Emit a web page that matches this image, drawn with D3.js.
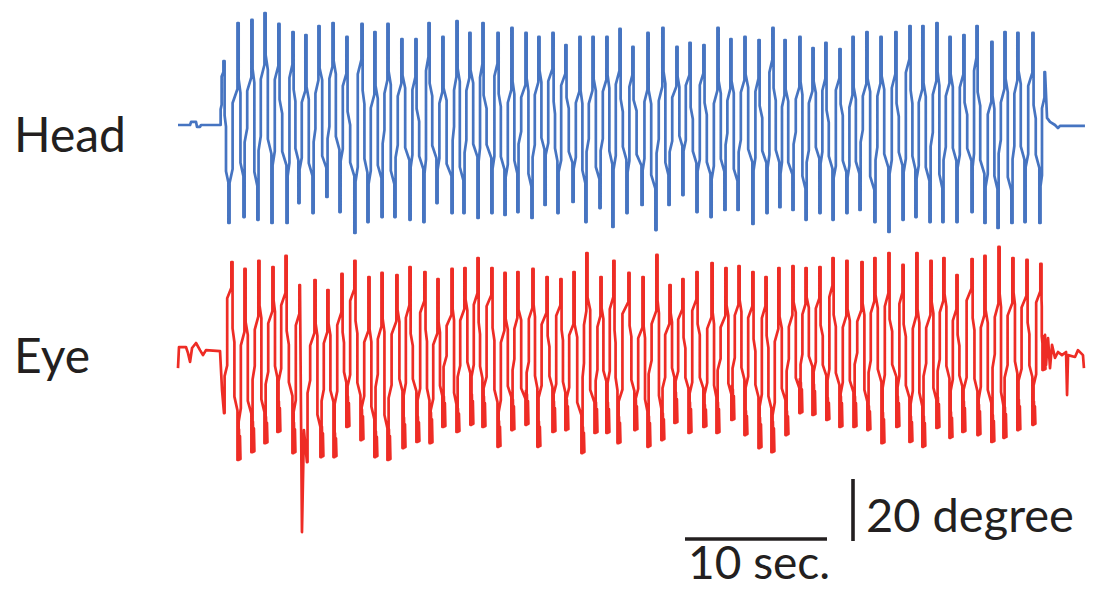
<!DOCTYPE html>
<html>
<head>
<meta charset="utf-8">
<script src="https://cdn.jsdelivr.net/npm/d3@7"></script>
<style>
  html, body { margin: 0; padding: 0; background: #fff; }
  svg { display: block; }
  text { font-family: Lato, "Open Sans", sans-serif; fill: #231f20; }
</style>
</head>
<body>
<svg id="chart"></svg>
<script>
var width = 1098, height = 589;

// head trace: turning points (time in s, angle in degree)
var headTime = [0, 0.85, 0.92, 1.27, 1.34, 1.55, 1.62, 2.96,
    3.24, 3.59, 4.23, 4.65, 5.21, 5.63, 6.13, 6.62, 7.11, 7.68, 8.10, 8.52, 9.01, 9.51, 9.93, 10.49,
    10.92, 11.41, 11.90, 12.46, 12.96, 13.38, 13.87, 14.37, 14.79, 15.28, 15.77, 16.34, 16.76, 17.32,
    17.68, 18.24, 18.66, 19.30, 19.65, 20.14, 20.56, 21.13, 21.48, 22.11, 22.54, 23.03, 23.52, 23.94,
    24.51, 24.93, 25.42, 25.85, 26.41, 26.76, 27.32, 27.82, 28.31, 28.73, 29.23, 29.72, 30.21, 30.63,
    31.13, 31.62, 32.04, 32.68, 33.10, 33.66, 34.15, 34.58, 35.14, 35.56, 36.06, 36.55, 37.04, 37.54,
    38.03, 38.52, 38.94, 39.44, 39.93, 40.49, 40.92, 41.48, 41.90, 42.39, 42.75, 43.31, 43.80, 44.23,
    44.72, 45.21, 45.63, 46.13, 46.62, 47.11, 47.54, 48.03, 48.52, 49.08, 49.51, 50.07, 50.56, 51.06,
    51.55, 51.97, 52.46, 52.96, 53.45, 53.87, 54.37, 54.86, 55.35, 55.92, 56.27, 56.83, 57.32, 57.75,
    58.24, 58.73, 59.15, 59.65, 60.21, 60.70, 61.06,
    61.20, 61.41, 61.76, 61.97, 62.11, 63.87];
var headDeg = [0, 0, 1.0, 1.0, -0.6, -0.6, 0, 0,
    20.6, -31.6, 32.9, -29.7, 33.9, -30.6, 36.1, -31.6, 32.6, -31.6, 30.0, -25.2, 29.0, -28.4, 31.9, -23.2,
    32.9, -28.1, 28.4, -34.8, 32.6, -31.3, 30.0, -29.7, 32.6, -29.7, 27.7, -30.6, 27.7, -31.3,
    32.9, -25.2, 28.4, -28.4, 33.5, -28.4, 29.7, -30.0, 32.9, -28.4, 29.7, -29.0, 31.3, -28.1,
    29.7, -30.0, 28.4, -25.8, 29.7, -28.4, 25.8, -24.8, 28.4, -31.3, 28.4, -26.8, 28.4, -32.9,
    31.0, -28.4, 25.2, -25.8, 29.7, -33.9, 31.3, -25.8, 25.2, -22.6, 26.5, -28.1, 25.8, -29.7,
    31.3, -27.4, 27.7, -27.4, 28.4, -31.9, 27.4, -28.4, 31.3, -26.5, 27.4, -27.4, 28.4, -30.6,
    24.8, -28.4, 26.5, -30.6, 24.5, -28.4, 28.4, -27.4, 30.0, -31.3, 28.4, -34.5, 30.0, -30.6,
    31.9, -29.7, 31.9, -31.3, 32.9, -31.3, 28.4, -31.3, 29.0, -28.1, 31.9, -31.6, 26.8, -33.2,
    30.0, -31.6, 29.7, -31.3, 29.7, -31.6, 17.1,
    2.3, 1.0, 0, -1.0, -0.3, -0.3];

// eye trace: turning points (time in s, angle in degree)
var eyeTime = [0, 0.07, 0.56, 0.70, 0.85, 0.99, 1.27, 1.55, 1.76, 1.97, 2.96, 3.10,
    3.24, 3.80, 4.23, 4.72, 5.21, 5.70, 6.13, 6.69, 7.04, 7.61, 8.10, 8.59, 8.73, 8.87, 9.08,
    9.65, 10.07, 10.56, 10.99, 11.55, 11.90, 12.46, 12.89, 13.45, 13.87, 14.37, 14.79, 15.42, 15.85,
    16.34, 16.83, 17.39, 17.75, 18.31, 18.66, 19.30, 19.65, 20.21, 20.63, 21.13, 21.48, 22.11, 22.54,
    23.03, 23.52, 23.94, 24.51, 25.00, 25.35, 25.99, 26.41, 26.97, 27.32, 27.89, 28.45, 28.80, 29.37,
    29.79, 30.21, 30.70, 30.99, 31.76, 32.18, 32.75, 33.10, 33.73, 34.08, 34.65, 35.00, 35.56, 35.99,
    36.55, 37.04, 37.61, 37.96, 38.59, 39.01, 39.51, 39.93, 40.49, 40.92, 41.41, 41.83, 42.32, 42.82,
    43.31, 43.80, 44.23, 44.72, 45.21, 45.70, 46.13, 46.62, 47.11, 47.61, 48.17, 48.59, 49.08, 49.58,
    50.07, 50.63, 51.06, 51.55, 52.04, 52.46, 53.03, 53.45, 53.94, 54.37, 54.86, 55.28, 55.92, 56.34,
    56.83, 57.32, 57.82, 58.17, 58.80, 59.15, 59.79, 60.21, 60.77,
    60.92, 61.06, 61.13, 61.27, 61.41, 61.55, 61.76, 61.97, 62.25, 62.54, 62.61, 62.68, 63.17, 63.38, 63.73, 63.80];
var eyeDeg = [-5.2, 1.6, 1.6, -0.3, -3.2, 1.3, 2.9, 0.6, -1.0, 0.6, 0.3, -12.2,
    -19.7, 29.0, -34.8, 26.8, -32.3, 29.4, -29.4, 27.4, -25.8, 31.0, -32.6, 21.6, -58.1, -25.2, -35.5,
    23.2, -33.9, 20.0, -33.9, 25.2, -24.2, 29.4, -28.4, 24.2, -33.9, 25.5, -34.8, 24.8, -31.0,
    27.4, -29.0, 25.8, -29.4, 23.5, -24.2, 26.8, -25.8, 27.1, -23.5, 30.3, -24.2, 27.1, -30.6,
    25.5, -25.2, 25.8, -23.5, 26.8, -30.6, 24.2, -25.8, 23.5, -25.2, 25.8, -32.6, 31.9, -26.1,
    24.2, -26.1, 29.4, -29.4, 25.5, -25.2, 24.2, -30.6, 31.3, -28.4, 21.6, -22.9, 23.5, -26.1,
    25.8, -24.2, 28.7, -26.1, 27.1, -21.9, 27.7, -26.8, 25.8, -31.0, 24.2, -32.3, 27.1, -26.8,
    27.7, -19.7, 27.1, -20.3, 27.4, -21.9, 30.3, -24.2, 29.4, -24.2, 29.0, -25.2, 30.3, -29.4,
    31.9, -24.2, 28.1, -29.0, 31.9, -30.6, 29.4, -24.5, 30.3, -27.7, 24.8, -25.8, 30.0, -26.8,
    31.0, -29.0, 33.9, -27.7, 30.3, -25.2, 29.7, -23.5, 28.4,
    -5.8, 5.5, -4.2, 4.5, -5.2, 2.3, -1.9, 0, -1.0, 0, -13.9, -1.0, -1.6, 0.6, -1.0, -5.2];

var traceLabels = ["Head", "Eye"];
var scaleSec = 10, scaleDeg = 20;
var scaleLabels = ["10 sec.", "20 degree"];

var svg = d3.select("#chart")
    .attr("width", width)
    .attr("height", height);

var xRange = d3.scaleLinear().domain([0, 10]).range([178, 320]);
var yHead = d3.scaleLinear().domain([-20, 20]).range([187, 63]);
var yEye = d3.scaleLinear().domain([-20, 20]).range([414, 290]);

// curve: fast slips drawn as near-vertical strokes with two small kinks
function Kink(context, chunky) {
    this._context = context;
    this._chunky = chunky;
}
Kink.prototype = {
    areaStart: function() {},
    areaEnd: function() {},
    lineStart: function() { this._i = 0; },
    lineEnd: function() {},
    point: function(x, y) {
        var c = this._context;
        if (this._i === 0) {
            c.moveTo(x, y);
        } else {
            var x0 = this._x, y0 = this._y, dx = x - x0, dy = y - y0;
            if (Math.abs(dy) < 40 || dx < 2) {
                c.lineTo(x, y);
            } else {
                var k = this._i;
                var f1 = 0.2 + 0.18 * ((k * 7) % 5) / 4;
                var f2 = 0.6 + 0.16 * ((k * 3) % 5) / 4;
                var kink = 0.07 * dy;
                var xa = x0 + 0.6, xm = x0 + dx * 0.4, xb = x - 0.6;
                c.lineTo(xa, y0);
                c.lineTo(xa, y0 + dy * f1);
                c.lineTo(xm, y0 + dy * f1 + kink);
                c.lineTo(xm, y0 + dy * f2);
                c.lineTo(xb, y0 + dy * f2 + kink);
                c.lineTo(xb, y);
                if (this._chunky && dy > 0) {
                    // small beats at the bottom of each eye slip
                    var h = Math.min(34, dy * (0.16 + 0.08 * (k % 3)));
                    c.lineTo(xb + 0.5, y - h);
                    c.lineTo(xb + 1.0, y - 4);
                    c.lineTo(xb + 1.5, y - h * 0.9);
                    c.lineTo(xb + 2.0, y - 2);
                    c.lineTo(xb + 2.5, y - h * 0.7);
                    c.lineTo(xb + 3.0, y - 1);
                }
                c.lineTo(x, y);
            }
        }
        this._x = x; this._y = y; this._i++;
    }
};
function curveKink(context) { return new Kink(context, false); }
function curveKinkChunky(context) { return new Kink(context, true); }

var headLine = d3.line()
    .x(function(i) { return xRange(headTime[i]); })
    .y(function(i) { return yHead(headDeg[i]); })
    .curve(curveKink);

var eyeLine = d3.line()
    .x(function(i) { return xRange(eyeTime[i]); })
    .y(function(i) { return yEye(eyeDeg[i]); })
    .curve(curveKinkChunky);

svg.append("path")
    .attr("d", headLine(d3.range(headTime.length)))
    .style("fill", "none")
    .style("stroke", "#4674c1")
    .style("stroke-width", 2.7)
    .style("stroke-linejoin", "round");

svg.append("path")
    .attr("d", eyeLine(d3.range(eyeTime.length)))
    .style("fill", "none")
    .style("stroke", "#ee2c25")
    .style("stroke-width", 2.7)
    .style("stroke-linejoin", "round");

// trace labels
svg.append("text")
    .attr("x", 14).attr("y", 152)
    .attr("font-size", 48)
    .text(traceLabels[0]);
svg.append("text")
    .attr("x", 14).attr("y", 373)
    .attr("font-size", 48)
    .text(traceLabels[1]);

// scale bars
var barX = 685;
var barLen = xRange(scaleSec) - xRange(0);
svg.append("line")
    .attr("x1", barX).attr("x2", barX + barLen)
    .attr("y1", 539).attr("y2", 539)
    .style("stroke", "#231f20").style("stroke-width", 3.4);
var vLen = yHead(0) - yHead(scaleDeg);
svg.append("line")
    .attr("x1", 853).attr("x2", 853)
    .attr("y1", 479).attr("y2", 479 + vLen)
    .style("stroke", "#231f20").style("stroke-width", 3.6);

svg.append("text")
    .attr("x", 688).attr("y", 579)
    .attr("font-size", 46)
    .text(scaleLabels[0]);
svg.append("text")
    .attr("x", 866).attr("y", 532)
    .attr("font-size", 47)
    .text(scaleLabels[1]);
</script>
</body>
</html>
